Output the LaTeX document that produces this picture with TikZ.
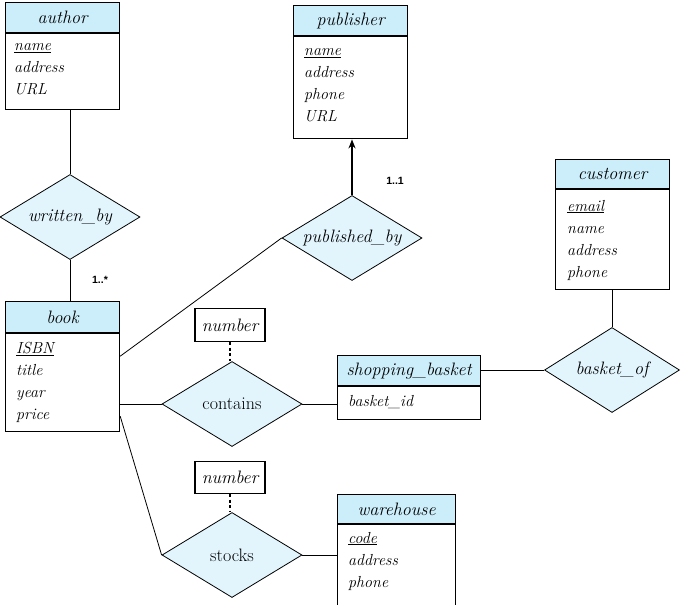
\documentclass[tikz,border=0pt]{standalone}
\usepackage{fontspec}
\newfontfamily\lblfont{Liberation Sans}
\usetikzlibrary{shapes.geometric,arrows.meta,calc}
\definecolor{hdrblue}{RGB}{204,238,250}
\definecolor{relblue}{RGB}{226,245,253}
\begin{document}
\begin{tikzpicture}[x=1pt,y=-1pt,
  hdr/.style={draw,line width=1.2pt,fill=hdrblue,anchor=north west,inner sep=0,font=\fontsize{18}{20}\selectfont\itshape},
  bodybox/.style={draw,line width=1.2pt,fill=white,anchor=north west,inner sep=0},
  attr/.style={anchor=base west,inner sep=0,font=\fontsize{16}{18}\selectfont\itshape},
  rel/.style={draw,diamond,fill=relblue,line width=0.8pt,aspect=1.65,inner sep=0,minimum width=140,minimum height=85,font=\fontsize{18}{20}\selectfont\itshape},
  relup/.style={rel,font=\fontsize{18}{20}\selectfont\upshape},
  numbox/.style={draw,line width=1.2pt,fill=white,minimum width=70,minimum height=33,inner sep=0,font=\fontsize{18}{20}\selectfont\itshape},
  conn/.style={line width=0.8pt},
  dotconn/.style={line width=2pt,dash pattern=on 3pt off 2.5pt},
  card/.style={font=\lblfont\bfseries\fontsize{10.5}{12}\selectfont,inner sep=0}
]
\clip (0,0) rectangle (684,604);
\fill[white] (0,0) rectangle (684,604);

% author
\node[hdr,minimum width=114,minimum height=30] (author) at (5,2) {author};
\node[bodybox,minimum width=114,minimum height=76] (authorb) at (author.south west) {};
\node[attr] (authorA1) at (14,51) {\underline{name}};
\node[attr] (authorA2) at (14,73) {address};
\node[attr] (authorA3) at (14,95) {URL};

% publisher
\node[hdr,minimum width=114,minimum height=30] (publisher) at (293,5) {publisher};
\node[bodybox,minimum width=114,minimum height=102] (publisherb) at (publisher.south west) {};
\node[attr] (pubA1) at (304,56) {\underline{name}};
\node[attr] (pubA2) at (304,78) {address};
\node[attr] (pubA3) at (304,100) {phone};
\node[attr] (pubA4) at (304,122) {URL};

% customer
\node[hdr,minimum width=114,minimum height=29] (customer) at (555,159) {customer};
\node[bodybox,minimum width=114,minimum height=100] (customerb) at (customer.south west) {};
\node[attr] (cusA1) at (567,211) {\underline{email}};
\node[attr] (cusA2) at (567,233) {name};
\node[attr] (cusA3) at (567,255) {address};
\node[attr] (cusA4) at (567,277) {phone};

% book
\node[hdr,minimum width=114,minimum height=31] (book) at (5,301) {book};
\node[bodybox,minimum width=114,minimum height=98] (bookb) at (book.south west) {};
\node[attr] (bookA1) at (16,353) {\underline{ISBN}};
\node[attr] (bookA2) at (16,375) {title};
\node[attr] (bookA3) at (16,397) {year};
\node[attr] (bookA4) at (16,419) {price};

% shopping basket
\node[hdr,minimum width=143,minimum height=30] (basket) at (337,355) {shopping\_basket};
\node[bodybox,minimum width=143,minimum height=33] (basketb) at (basket.south west) {};
\node[attr] (basA1) at (348,406) {basket\_id};

% warehouse
\node[hdr,minimum width=118,minimum height=29] (warehouse) at (337,494) {warehouse};
\node[bodybox,minimum width=118,minimum height=100] (warehouseb) at (warehouse.south west) {};
\node[attr] (whA1) at (348,543) {\underline{code}};
\node[attr] (whA2) at (348,565) {address};
\node[attr] (whA3) at (348,587) {phone};

% relationships
\node[rel] (wb) at (70,217) {written\_by};
\node[rel] (pb) at (352,238) {published\_by};
\node[rel,minimum width=135] (bo) at (612,370) {basket\_of};
\node[relup] (ct) at (232,404) {contains};
\node[relup] (st) at (232,555) {stocks};

% number attributes
\node[numbox,anchor=north] (num1) at (230,308) {number};
\node[numbox,anchor=north,minimum height=32] (num2) at (230,461) {number};

% connectors
\draw[conn] (wb.north) -- (wb.north |- authorb.south);
\draw[conn] (wb.south) -- (wb.south |- book.north);
\draw[line width=2pt,-{Stealth[length=9pt,width=7pt]}] (pb.north) -- (pb.north |- publisherb.south);
\draw[conn] ($(bookb.north east)+(0,23)$) -- (pb.west);
\draw[conn] (ct.west -| bookb.east) -- (ct.west);
\draw[conn] ($(bookb.north east)+(0,83)$) -- (st.west);
\draw[conn] (ct.east) -- (ct.east -| basketb.west);
\draw[conn] (basket.east) -- (basket.east -| bo.west);
\draw[conn] (bo.north) -- (bo.north |- customerb.south);
\draw[conn] (st.east) -- (st.east -| warehouseb.west);
\draw[dotconn] (num1.south) -- (num1.south |- ct.north);
\draw[dotconn] (num2.south) -- (num2.south |- st.north);

% cardinalities
\node[card] (c1) at (100,280) {1..*};
\node[card] (c2) at (395,181) {1..1};
\end{tikzpicture}
\end{document}
